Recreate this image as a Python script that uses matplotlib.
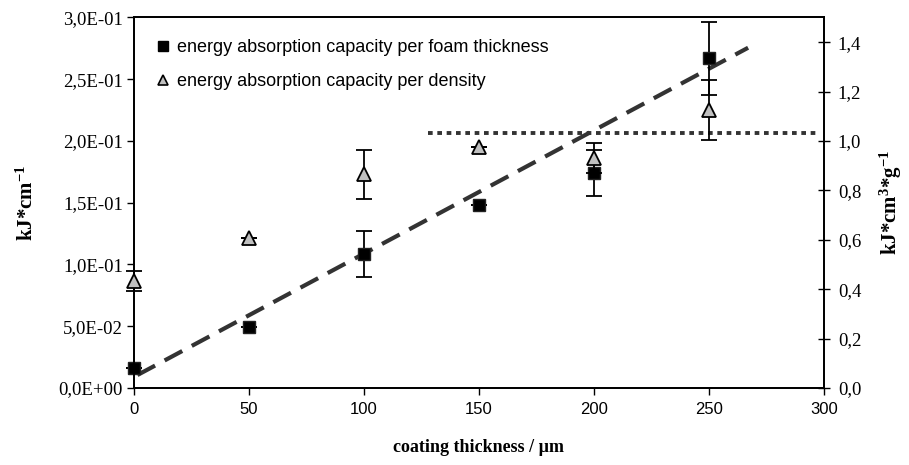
import matplotlib
matplotlib.use("Agg")
import matplotlib.pyplot as plt
from matplotlib.lines import Line2D

# ---- data ----
thickness = [0, 50, 100, 150, 200, 250]
per_foam = [0.016, 0.049, 0.1086, 0.148, 0.174, 0.267]          # kJ*cm^-1 (left axis)
per_foam_err = [0.0, 0.0, 0.0186, 0.0, 0.0183, 0.0296]
per_density = [0.433, 0.609, 0.865, 0.977, 0.930, 1.125]         # kJ*cm^3*g^-1 (right axis)
per_density_err = [0.040, 0.0, 0.100, 0.0, 0.061, 0.121]

trend_x = [1.5, 267]
trend_y = [0.0105, 0.2755]
level_x = [128, 298]
level_y = [1.031, 1.031]

x_ticks = [0, 50, 100, 150, 200, 250, 300]
x_labels = ["0", "50", "100", "150", "200", "250", "300"]
left_ticks = [0.0, 0.05, 0.10, 0.15, 0.20, 0.25, 0.30]
left_labels = ["0,0E+00", "5,0E-02", "1,0E-01", "1,5E-01", "2,0E-01", "2,5E-01", "3,0E-01"]
right_ticks = [0.0, 0.2, 0.4, 0.6, 0.8, 1.0, 1.2, 1.4]
right_labels = ["0,0", "0,2", "0,4", "0,6", "0,8", "1,0", "1,2", "1,4"]

legend_labels = ["energy absorption capacity per foam thickness",
                 "energy absorption capacity per density"]

plt.rcParams['mathtext.fontset'] = 'custom'
plt.rcParams['mathtext.rm'] = 'Liberation Serif:bold'
plt.rcParams['mathtext.bf'] = 'Liberation Serif:bold'
plt.rcParams['mathtext.it'] = 'Liberation Serif:bold'

SERIF = 'Liberation Serif'
SANS = 'Liberation Sans'

fig = plt.figure(figsize=(9.09, 4.65), dpi=100)
ax = fig.add_axes([0.1474, 0.1656, 0.7591, 0.7968])
ax2 = ax.twinx()

# trend (dashed) line
ax.plot(trend_x, trend_y, color='#333333', lw=3.0, dashes=(4.8, 2.6),
        dash_capstyle='butt', zorder=2)

# squares
ax.errorbar(thickness, per_foam, yerr=per_foam_err, fmt='s', color='black',
            markersize=8.8, markerfacecolor='black', markeredgecolor='#222222',
            ecolor='black', elinewidth=1.3, capsize=5.5, capthick=1.3, zorder=3,
            clip_on=False)

# triangles
ax2.errorbar(thickness, per_density, yerr=per_density_err, fmt='^', color='black',
             markersize=10, markerfacecolor='#c0c0c0', markeredgecolor='black',
             markeredgewidth=1.3, ecolor='black', elinewidth=1.3, capsize=5.5,
             capthick=1.3, zorder=3, clip_on=False)

# level (dotted) line
ax2.plot(level_x, level_y, color='#333333', lw=2.8, dashes=(1.2, 1.2),
         dash_capstyle='butt', zorder=2)

ax.set_xlim(0, 300)
ax.set_ylim(0, 0.30)
ax2.set_ylim(0, 1.5)

ax.set_xticks(x_ticks)
ax.set_xticklabels(x_labels, fontfamily=SANS, fontsize=12)
ax.set_yticks(left_ticks)
ax.set_yticklabels(left_labels, fontfamily=SERIF, fontsize=13.5)
ax2.set_yticks(right_ticks)
ax2.set_yticklabels(right_labels, fontfamily=SERIF, fontsize=13.5)

ax.tick_params(axis='x', direction='out', length=5, width=1, pad=5, color='black')
ax.tick_params(axis='y', direction='out', length=5, width=1, pad=3, color='black')
ax2.tick_params(axis='y', direction='inout', length=8, width=1, pad=6, color='black')

for a in (ax, ax2):
    for s in a.spines.values():
        s.set_linewidth(1.3)
        s.set_color('black')

ax.set_xlabel("coating thickness / µm", fontfamily=SERIF, fontweight='bold',
              fontsize=13, labelpad=16)
ax.set_ylabel(r"kJ*cm$^{-1}$", fontfamily=SERIF, fontweight='bold',
              fontsize=15, labelpad=15)
ax2.set_ylabel(r"kJ*cm$^{3}$*g$^{-1}$", fontfamily=SERIF, fontweight='bold',
               fontsize=15, labelpad=12)

# legend
h1 = Line2D([], [], linestyle='none', marker='s', markersize=7,
            markerfacecolor='black', markeredgecolor='black')
h2 = Line2D([], [], linestyle='none', marker='^', markersize=7,
            markerfacecolor='#c0c0c0', markeredgecolor='black', markeredgewidth=1.2)
leg = ax.legend([h1, h2], legend_labels, loc='upper left', frameon=False,
                prop={'family': SANS, 'size': 13}, handlelength=0.6,
                handletextpad=0.5, labelspacing=0.95,
                bbox_to_anchor=(0.01, 0.985))

fig.savefig("out.png", dpi=100)
